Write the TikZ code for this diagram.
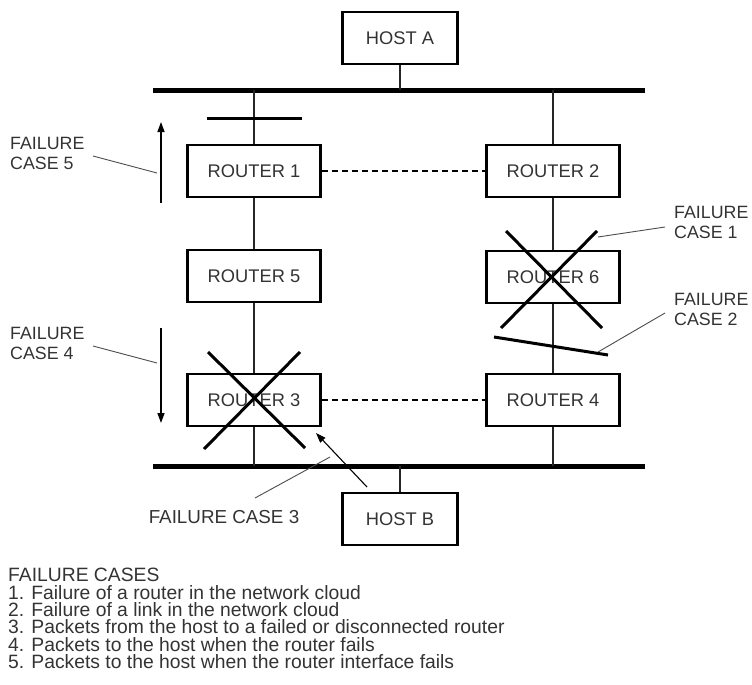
\documentclass[tikz,border=0pt]{standalone}
\usepackage{fontspec}
\setmainfont{Liberation Sans}
\usetikzlibrary{arrows.meta}
\definecolor{ink}{gray}{0.2}
\tikzset{
  box/.style={draw=black, line width=2.3pt, fill=white, minimum width=133pt, minimum height=52pt, inner sep=0pt, text=ink, font=\fontsize{18.3}{20}\selectfont},
  hostbox/.style={box, minimum width=115pt},
  bus/.style={line width=5pt},
  wire/.style={line width=1.1pt, draw=black!85},
  link/.style={line width=1.1pt, dash pattern=on 6pt off 4pt},
  cross/.style={line width=3pt},
  leader/.style={line width=0.9pt, draw=black!70},
  lbl/.style={text=ink, align=left, inner sep=0pt, font=\fontsize{17.8}{20}\selectfont},
  arr/.style={line width=1.3pt, -{Triangle[length=10pt,width=7pt]}}
}
\begin{document}
\begin{tikzpicture}[x=1pt,y=-1pt]
\useasboundingbox (0,0) rectangle (752,685);
% buses
\coordinate (topL) at (153,90);
\coordinate (topR) at (645,90);
\coordinate (botL) at (153,466);
\coordinate (botR) at (645,466);
\coordinate (tA) at (400,90);
\coordinate (t1) at (254,90);
\coordinate (t2) at (553,90);
\coordinate (b3) at (254,466);
\coordinate (b4) at (553,466);
\coordinate (bB) at (400,466);
\draw[bus] (topL) -- (topR);
\draw[bus] (botL) -- (botR);
% nodes
\node[hostbox] (hA) at (400,38) {HOST A};
\node[hostbox] (hB) at (400,519) {HOST B};
\node[box] (r1) at (254,171) {ROUTER 1};
\node[box] (r2) at (553,171) {ROUTER 2};
\node[box] (r5) at (254,276) {ROUTER 5};
\node[box] (r6) at (553,277) {ROUTER 6};
\node[box] (r3) at (254,400) {ROUTER 3};
\node[box] (r4) at (553,400) {ROUTER 4};
% wires
\draw[wire] (hA.south) -- (tA);
\draw[wire] (bB) -- (hB.north);
\draw[wire] (t1) -- (r1.north);
\draw[wire] (r1.south) -- (r5.north);
\draw[wire] (r5.south) -- (r3.north);
\draw[wire] (r3.south) -- (b3);
\draw[wire] (t2) -- (r2.north);
\draw[wire] (r2.south) -- (r6.north);
\draw[wire] (r6.south) -- (r4.north);
\draw[wire] (r4.south) -- (b4);
\draw[link] (r1.east) -- (r2.west);
\draw[link] (r3.east) -- (r4.west);
% failure case 5
\coordinate (f5a) at (207,118);
\coordinate (f5b) at (302,118);
\draw[cross] (f5a) -- (f5b);
\coordinate (a5s) at (161,203);
\coordinate (a5e) at (161,122);
\draw[arr] (a5s) -- (a5e);
\node[lbl, anchor=west] (l5) at (10,153) {FAILURE\\CASE 5};
\coordinate (l5e) at (157,173);
\draw[leader] (93,156) -- (l5e);
% failure case 4
\coordinate (a4s) at (161,328);
\coordinate (a4e) at (161,423);
\draw[arr] (a4s) -- (a4e);
\node[lbl, anchor=west] (l4) at (10,343) {FAILURE\\CASE 4};
\coordinate (l4e) at (157,363);
\draw[leader] (93,346) -- (l4e);
% cross router 3
\draw[cross] (208,352) -- (305,448);
\draw[cross] (300,352) -- (204,449);
% failure case 3
\coordinate (a3s) at (367,487);
\coordinate (a3e) at (316,433);
\draw[arr, line width=1.1pt] (a3s) -- (a3e);
\node[lbl, anchor=center, font=\fontsize{18.8}{20}\selectfont] (l3) at (224,517) {FAILURE CASE 3};
\draw[leader] (255,498) -- (330,457);
% cross router 6
\draw[cross] (506,231) -- (602,328);
\draw[cross] (597,231) -- (501,328);
\node[lbl, anchor=west] (l1) at (674,222) {FAILURE\\CASE 1};
\draw[leader] (598,237) -- (665,227);
% link failure 2
\draw[cross] (494,337) -- (608,355);
\node[lbl, anchor=west] (l2) at (674,309) {FAILURE\\CASE 2};
\draw[leader] (598,352) -- (665,313);
% legend
\node[lbl, anchor=north west, font=\fontsize{19.3}{17.4}\selectfont] (leg) at (8,568) {FAILURE CASES\\
1. Failure of a router in the network cloud\\
2. Failure of a link in the network cloud\\
3. Packets from the host to a failed or disconnected router\\
4. Packets to the host when the router fails\\
5. Packets to the host when the router interface fails};
\end{tikzpicture}
\end{document}
